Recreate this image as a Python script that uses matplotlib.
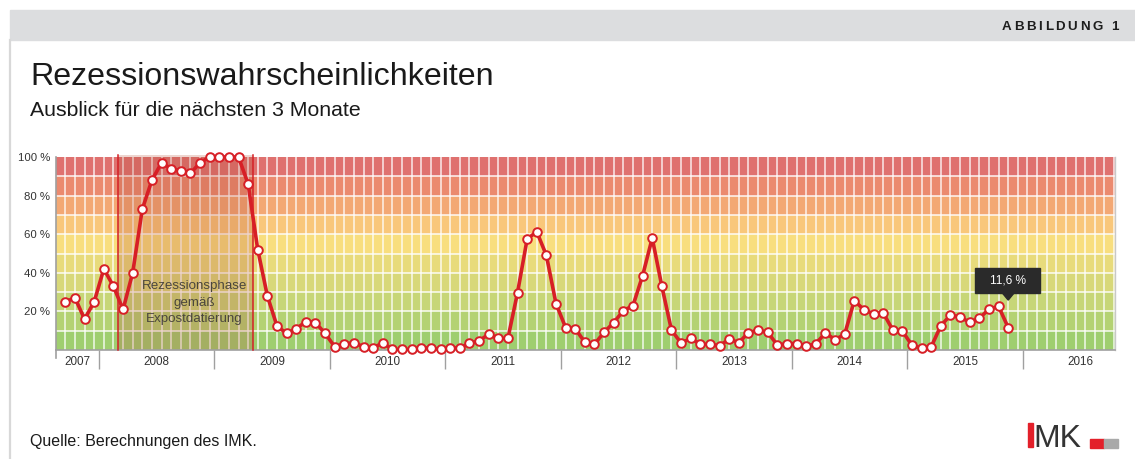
import matplotlib
matplotlib.use("Agg")
import matplotlib.pyplot as plt
import matplotlib.patches as mpatches
import matplotlib.transforms as mtransforms
from matplotlib.font_manager import FontProperties
import numpy as np

plt.rcParams['font.family'] = ['Liberation Sans', 'DejaVu Sans']

W, H = 1135, 459

# monthly values, Sep 2007 .. Nov 2015 (in %)
vals_2007 = [25, 27, 16, 25]
vals_2008 = [42, 33, 21, 40, 73, 88, 97, 94, 93, 91.5, 97, 100]
vals_2009 = [100, 100, 100, 86, 52, 28, 12.4, 8.6, 11, 14.7, 14.2, 8.6]
vals_2010 = [1.7, 3.1, 3.8, 1.7, 1.0, 3.8, 0.3, 0.3, 0.3, 1.1, 1.1, 0.3]
vals_2011 = [1.1, 1.1, 3.4, 4.8, 8.1, 6.0, 6.0, 29.7, 57.5, 61.3, 49, 24]
vals_2012 = [11.6, 11, 4, 3, 9.2, 14.2, 20.4, 23, 38.5, 58, 33, 10.3]
vals_2013 = [3.6, 6, 3, 3, 2.2, 5.7, 3.8, 9, 10.2, 9.2, 2.6, 3.3]
vals_2014 = [3.3, 1.9, 3.3, 8.8, 5.4, 8.1, 25.6, 20.9, 18.8, 19.3, 10.4, 9.8]
vals_2015 = [2.4, 1.0, 1.7, 12.6, 18.1, 17.1, 14.3, 16.4, 21.2, 22.6, 11.6]
values = (vals_2007 + vals_2008 + vals_2009 + vals_2010 + vals_2011
          + vals_2012 + vals_2013 + vals_2014 + vals_2015)

first_month = 8          # months after Jan 2007 -> Sep 2007
years = list(range(2007, 2017))
rec_start, rec_end = 14, 28   # Mar 2008 .. end of Apr 2009 (months after Jan 2007)
rec_label = "Rezessionsphase\ngemäß\nExpostdatierung"

band_colors = ['#9fce6f', '#b4d273', '#c7d677', '#d8d879', '#e8db7b',
               '#f8de7e', '#f9c77a', '#f3a874', '#eb8a6f', '#df716f']

x_lo, x_hi = 7.53, 117.6
months = first_month + 0.5 + np.arange(len(values))

fig = plt.figure(figsize=(W / 100, H / 100), dpi=100)
fig.patch.set_facecolor('white')


def fx(px):
    return px / W


def fy(py):
    return 1 - py / H


# header band and page border
fig.patches.append(mpatches.Rectangle((fx(10), fy(40)), fx(W - 10), 30 / H,
                                      transform=fig.transFigure, color='#dcdddf', zorder=0))
fig.add_artist(plt.Line2D([fx(10), fx(10)], [fy(40), 0], transform=fig.transFigure,
                          color='#d8d8d8', lw=1.6))

# letter-spaced header text
renderer = fig.canvas.get_renderer()
fp = FontProperties(family=['Liberation Sans', 'DejaVu Sans'], weight='bold', size=9.6)
hdr = "ABBILDUNG 1"
spacing = 2.6
widths = [renderer.get_text_width_height_descent(c, fp, ismath=False)[0] for c in hdr]
total = sum(widths) + spacing * (len(hdr) - 1)
xpos = 1119 - total
for c, w in zip(hdr, widths):
    fig.text(fx(xpos), fy(30.5), c, fontproperties=fp, color='#1e1e1e', va='baseline', ha='left')
    xpos += w + spacing

fig.text(fx(30), fy(85), "Rezessionswahrscheinlichkeiten", fontsize=23.1, color='#1a1a1a',
         va='baseline')
fig.text(fx(30), fy(116), "Ausblick für die nächsten 3 Monate", fontsize=15.3, color='#1a1a1a',
         va='baseline')
fig.text(fx(30), fy(446), "Quelle: Berechnungen des IMK.", fontsize=11.5, color='#1a1a1a',
         va='baseline')

# IMK logo
fig.patches.append(mpatches.Rectangle((fx(1028), fy(447)), 5 / W, 24 / H,
                                      transform=fig.transFigure, color='#e3202a'))
fig.text(fx(1033), fy(447), "MK", fontsize=23, color='#333333', va='baseline', ha='left')
fig.patches.append(mpatches.Rectangle((fx(1090), fy(448)), 14 / W, 9 / H,
                                      transform=fig.transFigure, color='#e3202a'))
fig.patches.append(mpatches.Rectangle((fx(1104), fy(448)), 14 / W, 9 / H,
                                      transform=fig.transFigure, color='#a9a9a9'))

# chart
ax = fig.add_axes([fx(56), fy(350), (1115 - 56) / W, (350 - 157) / H])
ax.set_xlim(x_lo, x_hi)
ax.set_ylim(0, 100)
ax.set_facecolor('white')

for i, c in enumerate(band_colors):
    ax.axhspan(i * 10, i * 10 + 10, color=c, lw=0, zorder=0)
ax.hlines(np.arange(10, 100, 10), x_lo, x_hi, color='white', lw=1.2, alpha=0.85, zorder=1)
ax.vlines(np.arange(first_month + 0.5, x_hi, 1.0), 0, 100, color='white', lw=1.1,
          alpha=0.85, zorder=1)

# recession phase
ax.axvspan(rec_start, rec_end, ymin=0, ymax=1.01, color='#b8503a', alpha=0.24, lw=0,
           zorder=2, clip_on=False)
for xr in (rec_start, rec_end):
    ax.plot([xr, xr], [0, 101], color='#d42026', lw=1.1, zorder=3, clip_on=False)
ax.text(21.93, 24.6, rec_label, ha='center', va='center', fontsize=9.6, color='#4a463c',
        linespacing=1.45, zorder=3)

ax.plot(months, values, color='#d71f26', lw=2.6, zorder=4, solid_joinstyle='round',
        clip_on=False)
ax.plot(months, values, ls='none', marker='o', ms=6.2, mfc='white', mec='#d71f26', mew=1.4,
        zorder=5, clip_on=False)

# tooltip for last value (offsets in pixels)
last_x, last_v = months[-1], values[-1]
trans = mtransforms.Affine2D().scale(fig.dpi / 100.0) + \
    mtransforms.ScaledTranslation(last_x, last_v, ax.transData)
box = [(-33, 34.6), (32, 34.6), (32, 59.6), (-33, 59.6)]
tip = [(-6, 34.8), (0, 27.5), (6, 34.8)]
ax.add_patch(mpatches.Polygon(box, closed=True, transform=trans, color='#2a2a2a',
                              zorder=6, clip_on=False))
ax.add_patch(mpatches.Polygon(tip, closed=True, transform=trans, color='#2a2a2a',
                              zorder=6, clip_on=False))
ax.text(0, 47.1, f"{last_v:.1f} %".replace('.', ','), transform=trans, ha='center',
        va='center', fontsize=8.6, color='white', zorder=7)

# axes styling
ax.spines['top'].set_visible(False)
ax.spines['right'].set_color('#c8c8c8')
ax.spines['right'].set_linewidth(1.0)
ax.spines['left'].set_color('#a0a0a0')
ax.spines['bottom'].set_color('#a0a0a0')
ax.spines['left'].set_linewidth(1.2)
ax.spines['bottom'].set_linewidth(1.2)
ax.plot([x_lo, x_lo], [-4, 0], color='#a0a0a0', lw=1.2, clip_on=False)

ax.set_yticks([20, 40, 60, 80, 100])
ax.set_yticklabels([f"{v} %" for v in [20, 40, 60, 80, 100]])
ax.tick_params(axis='y', length=0, pad=4, labelsize=8.2, labelcolor='#333333')

year_ticks = [(y - 2007) * 12 for y in years[1:]]
ax.set_xticks(year_ticks)
ax.set_xticklabels([])
ax.tick_params(axis='x', which='major', length=13.7, width=1.0, color='#a0a0a0')
label_x = [(max(x_lo, (y - 2007) * 12) + (y - 2007) * 12 + 12) / 2 for y in years]
ax.set_xticks(label_x, minor=True)
ax.set_xticklabels([str(y) for y in years], minor=True)
ax.tick_params(axis='x', which='minor', length=0, pad=4.5, labelsize=8.4,
               labelcolor='#333333')

fig.savefig("out.png", dpi=100)
